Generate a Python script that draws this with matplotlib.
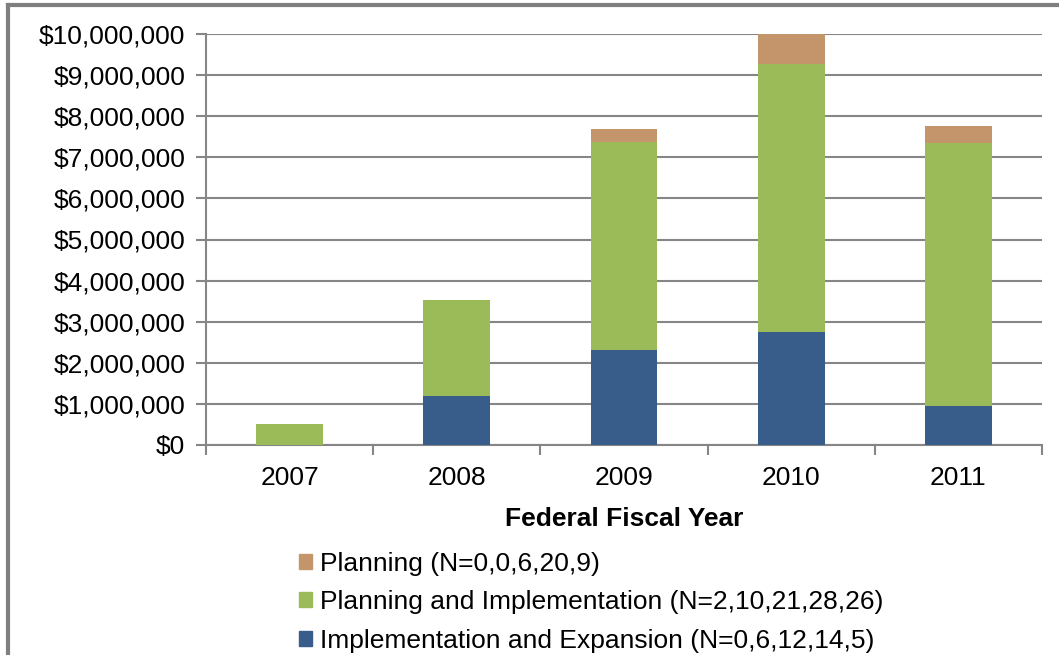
import numpy as np
import matplotlib.pyplot as plt
from matplotlib.lines import Line2D
from matplotlib.patches import Patch
from matplotlib.ticker import FuncFormatter

plt.rcParams['font.family'] = ['Liberation Sans', 'DejaVu Sans']

years = ['2007', '2008', '2009', '2010', '2011']
impl_exp = [0, 1200000, 2300000, 2750000, 950000]
plan_impl = [500000, 2330000, 5070000, 6520000, 6400000]
planning = [0, 0, 320000, 730000, 410000]

labels = ['Planning (N=0,0,6,20,9)',
          'Planning and Implementation (N=2,10,21,28,26)',
          'Implementation and Expansion (N=0,6,12,14,5)']
c_plan = '#C4956A'
c_pi = '#9BBB59'
c_ie = '#385D8A'
grey = '#868686'
fs = 19

fig = plt.figure(figsize=(10.59, 6.55), dpi=100)
W, H = 1059, 655
ax = fig.add_axes([206 / W, 1 - 445 / H, (1042 - 206) / W, (445 - 34) / H])

x = np.arange(len(years))
b1 = np.array(impl_exp)
b2 = b1 + np.array(plan_impl)
ax.bar(x, impl_exp, 0.4, color=c_ie, zorder=3)
ax.bar(x, plan_impl, 0.4, bottom=b1, color=c_pi, zorder=3)
ax.bar(x, planning, 0.4, bottom=b2, color=c_plan, zorder=3)

ax.set_xlim(-0.5, len(years) - 0.5)
ax.set_ylim(0, 10000000)
ax.set_yticks(np.arange(0, 10000001, 1000000))
ax.yaxis.set_major_formatter(FuncFormatter(lambda v, p: '${:,.0f}'.format(v)))
ax.yaxis.grid(True, color=grey, lw=1.5, zorder=0)

ax.set_xticks(x)
ax.set_xticklabels(years)
ax.set_xticks(np.arange(-0.5, len(years), 1), minor=True)
ax.tick_params(axis='x', which='major', length=0, pad=15, labelsize=fs)
ax.tick_params(axis='x', which='minor', length=7, width=1.5, color=grey, direction='out')
ax.tick_params(axis='y', length=7, width=1.5, color=grey, labelsize=fs, pad=8)

for s in ['top', 'right']:
    ax.spines[s].set_visible(False)
for s in ['left', 'bottom']:
    ax.spines[s].set_color(grey)
    ax.spines[s].set_linewidth(1.5)

ax.set_xlabel('Federal Fiscal Year', fontsize=fs, fontweight='bold', labelpad=12)

handles = [Patch(color=c_plan), Patch(color=c_pi), Patch(color=c_ie)]
fig.legend(handles, labels, loc='upper left', bbox_to_anchor=(288 / W, 1 - 541 / H),
           frameon=False, fontsize=fs, handlelength=0.5, handleheight=0.5,
           handletextpad=0.3, labelspacing=0.56, borderaxespad=0)

# outer frame (top and left edges)
fig.add_artist(Line2D([8 / W, 1], [1 - 5 / H, 1 - 5 / H], color='#7F7F7F', lw=3))
fig.add_artist(Line2D([8 / W, 8 / W], [0, 1 - 5 / H], color='#7F7F7F', lw=3))

fig.savefig('out.png', dpi=100)
